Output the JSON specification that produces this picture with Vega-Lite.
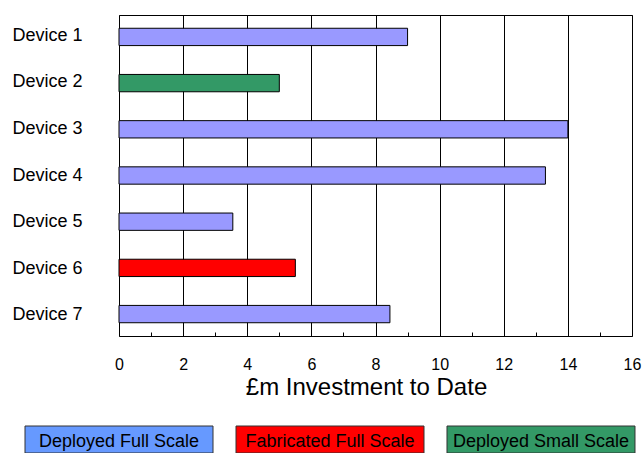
{
  "$schema": "https://vega.github.io/schema/vega-lite/v6.json",
  "background": "white",
  "padding": {"left": 12, "top": 14, "right": 0, "bottom": 0},
  "spacing": 25,
  "config": {"font": "Liberation Sans", "view": {"stroke": null}},
  "resolve": {"scale": {"color": "independent", "x": "independent"}},
  "vconcat": [
    {
      "spacing": 31,
      "data": {
        "values": [
          {"device": "Device 1", "investment": 9.0, "status": "Deployed Full Scale"},
          {"device": "Device 2", "investment": 5.0, "status": "Deployed Small Scale"},
          {"device": "Device 3", "investment": 14.0, "status": "Deployed Full Scale"},
          {"device": "Device 4", "investment": 13.3, "status": "Deployed Full Scale"},
          {"device": "Device 5", "investment": 3.55, "status": "Deployed Full Scale"},
          {"device": "Device 6", "investment": 5.5, "status": "Fabricated Full Scale"},
          {"device": "Device 7", "investment": 8.45, "status": "Deployed Full Scale"}
        ]
      },
      "resolve": {"scale": {"y": "independent"}},
      "hconcat": [
        {
          "width": 1,
          "height": 321,
          "mark": {"type": "text", "align": "left", "baseline": "middle", "fontSize": 18, "color": "black"},
          "encoding": {
            "y": {
              "field": "device",
              "type": "nominal",
              "sort": null,
              "scale": {"type": "point", "padding": 0.45},
              "axis": null
            },
            "text": {"field": "device", "type": "nominal"}
          }
        },
        {
          "width": 513,
          "height": 321,
          "view": {"stroke": "black", "strokeWidth": 1},
          "resolve": {"axis": {"x": "independent"}},
          "layer": [
            {
              "mark": {"type": "bar", "stroke": "black", "strokeWidth": 1},
              "encoding": {
                "y": {
                  "field": "device",
                  "type": "nominal",
                  "sort": null,
                  "scale": {"paddingInner": 0.625, "paddingOuter": 0.287},
                  "axis": null
                },
                "x": {
                  "field": "investment",
                  "type": "quantitative",
                  "scale": {"domain": [0, 16], "nice": false},
                  "axis": {
                    "orient": "bottom",
                    "values": [0, 2, 4, 6, 8, 10, 12, 14, 16],
                    "grid": true,
                    "gridColor": "black",
                    "gridOpacity": 1,
                    "gridWidth": 1,
                    "domain": false,
                    "ticks": false,
                    "tickSize": 0,
                    "labelFlush": false,
                    "labelPadding": 20,
                    "labelFontSize": 16,
                    "labelColor": "black",
                    "title": "£m Investment to Date",
                    "titleFontSize": 24,
                    "titleFontWeight": "normal",
                    "titleColor": "black",
                    "titlePadding": 3,
                    "titleX": 247
                  }
                },
                "color": {
                  "field": "status",
                  "type": "nominal",
                  "scale": {
                    "domain": ["Deployed Full Scale", "Fabricated Full Scale", "Deployed Small Scale"],
                    "range": ["#9999FF", "#FF0000", "#339966"]
                  },
                  "legend": null
                }
              }
            },
            {
              "mark": {"type": "tick", "opacity": 0},
              "encoding": {
                "x": {
                  "field": "investment",
                  "type": "quantitative",
                  "axis": {
                    "orient": "bottom",
                    "values": [1, 3, 5, 7, 9, 11, 13, 15],
                    "labels": false,
                    "domain": false,
                    "grid": false,
                    "ticks": true,
                    "tickSize": -4,
                    "tickColor": "black",
                    "tickWidth": 1,
                    "title": null
                  }
                }
              }
            }
          ]
        }
      ]
    },
    {
      "width": 630,
      "height": 27,
      "data": {
        "values": [
          {"item": "Deployed Full Scale"},
          {"item": "Fabricated Full Scale"},
          {"item": "Deployed Small Scale"}
        ]
      },
      "encoding": {
        "x": {
          "field": "item",
          "type": "nominal",
          "sort": null,
          "axis": null,
          "scale": {"paddingInner": 0.109, "paddingOuter": 0.0474, "align": 0.65}
        }
      },
      "layer": [
        {
          "mark": {"type": "rect", "stroke": "#333333", "strokeWidth": 1},
          "encoding": {
            "color": {
              "field": "item",
              "type": "nominal",
              "scale": {
                "domain": ["Deployed Full Scale", "Fabricated Full Scale", "Deployed Small Scale"],
                "range": ["#6699FF", "#FF0000", "#339966"]
              },
              "legend": null
            }
          }
        },
        {
          "mark": {"type": "text", "fontSize": 18, "color": "black", "dy": 2},
          "encoding": {"text": {"field": "item", "type": "nominal"}}
        }
      ]
    }
  ]
}
